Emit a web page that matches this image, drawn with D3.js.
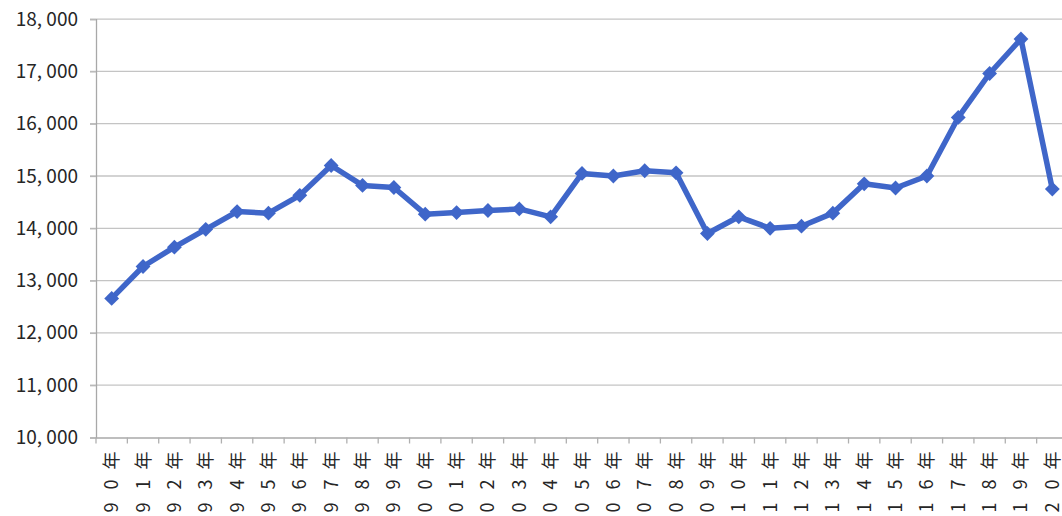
<!DOCTYPE html>
<html>
<head>
<meta charset="utf-8">
<script src="https://cdn.jsdelivr.net/npm/d3@7"></script>
<style>
  html, body { margin: 0; padding: 0; background: #fff; }
  svg { display: block; }
  text { font-family: "Noto Sans CJK JP", "Noto Sans", sans-serif; fill: #262626; }
</style>
</head>
<body>
<svg id="chart" width="1062" height="516"></svg>
<script>
// Year labels along the bottom axis
const years = ["90年","91年","92年","93年","94年","95年","96年","97年","98年","99年",
               "00年","01年","02年","03年","04年","05年","06年","07年","08年","09年",
               "10年","11年","12年","13年","14年","15年","16年","17年","18年","19年","20年"];

// Yearly values
const values = [12660, 13270, 13640, 13980, 14320, 14290, 14630, 15200, 14820, 14780,
                14270, 14300, 14340, 14370, 14220, 15050, 15000, 15100, 15060, 13900,
                14220, 14000, 14040, 14290, 14850, 14770, 15000, 16120, 16960, 17620, 14750];

// Value axis ticks
const yTicks = [10000, 11000, 12000, 13000, 14000, 15000, 16000, 17000, 18000];

const svg = d3.select("#chart");
const plotLeft = 96, plotRight = 1068, plotTop = 19.1, plotBottom = 437.5;

const x = d3.scaleBand().domain(years).range([plotLeft, plotRight]).padding(0);
const y = d3.scaleLinear().domain([10000, 18000]).range([plotBottom, plotTop]);

// Horizontal gridlines
svg.append("g")
  .selectAll("line")
  .data(yTicks.slice(1))
  .join("line")
  .attr("x1", plotLeft - 6).attr("x2", plotRight)
  .attr("y1", d => y(d)).attr("y2", d => y(d))
  .attr("stroke", "#c4c4c4").attr("stroke-width", 1.3);

// Value axis
const fmt = d => d3.format(",")(d).replace(",", ", ");
const yAxis = svg.append("g")
  .attr("transform", `translate(${plotLeft},0)`)
  .call(d3.axisLeft(y).tickValues(yTicks).tickSize(6).tickPadding(12).tickFormat(fmt));
yAxis.select(".domain").attr("stroke", "#a8a8a8").attr("stroke-width", 1.3);
yAxis.selectAll(".tick line").attr("stroke", "#b8b8b8").attr("stroke-width", 1.3);
yAxis.selectAll(".tick text")
  .attr("font-size", 19)
  .attr("fill", "#262626")
  .style("font-family", '"Noto Sans CJK JP", sans-serif');

// Category axis: baseline and boundary ticks
const xAxis = svg.append("g")
  .attr("transform", `translate(0,${plotBottom})`)
  .call(d3.axisBottom(x).tickSize(0).tickFormat(""));
xAxis.select(".domain").attr("stroke", "#a8a8a8").attr("stroke-width", 1.3);

const bounds = years.map(d => x(d)).concat([plotRight]);
svg.append("g")
  .selectAll("line")
  .data(bounds)
  .join("line")
  .attr("x1", d => d).attr("x2", d => d)
  .attr("y1", plotBottom).attr("y2", plotBottom + 6)
  .attr("stroke", "#b0b0b0").attr("stroke-width", 1.3);

// Rotated year labels, one character per slot reading upward
const charOffsets = [70, 47, 23];  // distance below the axis for 1st, 2nd, 3rd character
xAxis.selectAll(".tick").each(function(d) {
  const g = d3.select(this);
  g.select("text").remove();
  const t = g.append("text")
    .attr("transform", "rotate(-90)")
    .attr("font-size", 18)
    .attr("dominant-baseline", "central")
    .attr("text-anchor", "middle");
  Array.from(d).forEach((ch, i) => {
    t.append("tspan")
      .attr("x", -charOffsets[i])
      .attr("y", -1.5)
      .text(ch);
  });
});

// Series line
const line = d3.line()
  .x((d, i) => x(years[i]) + x.bandwidth() / 2)
  .y(d => y(d));

svg.append("path")
  .datum(values)
  .attr("d", line)
  .attr("fill", "none")
  .attr("stroke", "#3f66c9")
  .attr("stroke-width", 5.5)
  .attr("stroke-linejoin", "round");

// Diamond markers
const diamond = d3.symbol().type(d3.symbolSquare).size(110);
svg.append("g")
  .selectAll("path")
  .data(values)
  .join("path")
  .attr("d", diamond)
  .attr("transform", (d, i) => `translate(${x(years[i]) + x.bandwidth() / 2},${y(d)}) rotate(45)`)
  .attr("fill", "#3f66c9");
</script>
</body>
</html>
